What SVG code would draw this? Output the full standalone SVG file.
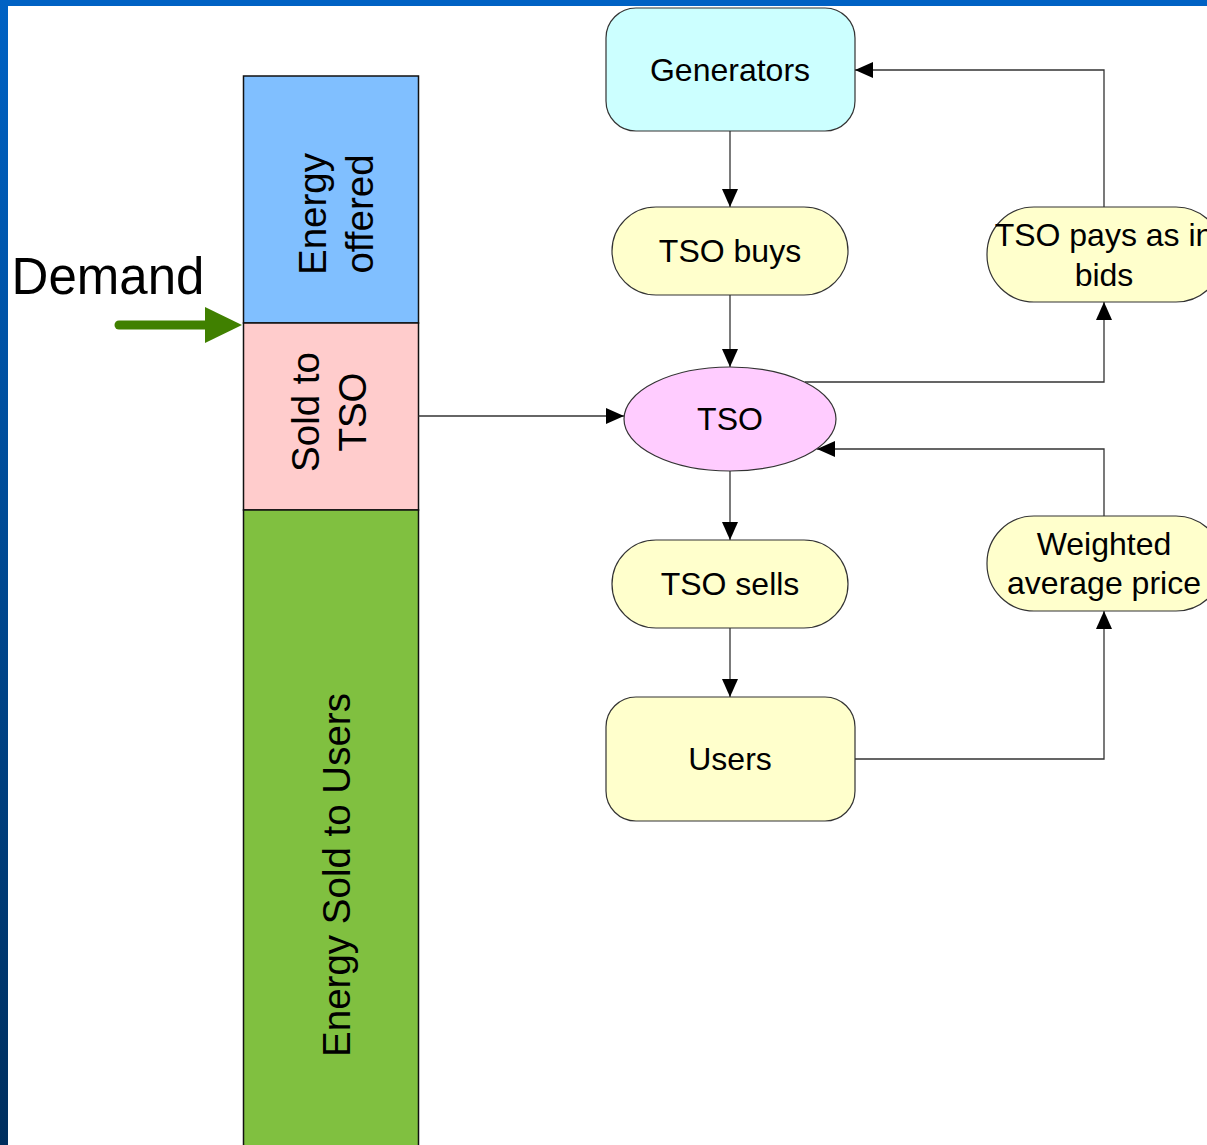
<svg xmlns="http://www.w3.org/2000/svg" width="1207" height="1145" viewBox="0 0 1207 1145">
<defs>
<linearGradient id="lb" x1="0" y1="0" x2="0" y2="1">
<stop offset="0" stop-color="#0062c4"/>
<stop offset="1" stop-color="#002f5e"/>
</linearGradient>
<marker id="ah" viewBox="0 0 18 16" refX="18" refY="8" markerWidth="18" markerHeight="16" markerUnits="userSpaceOnUse" orient="auto">
<path d="M0,0 L18,8 L0,16 Z" fill="#000"/>
</marker>
<style>
.t{font-family:"Liberation Sans",Arial,sans-serif;fill:#000;text-anchor:middle}
.n{font-size:32px}
.v{font-size:38.5px}
.node{stroke:#333;stroke-width:1.2}
.bar{stroke:#111;stroke-width:1.5}
.c{fill:none;stroke:#333;stroke-width:1.3}
</style>
</defs>
<rect x="0" y="0" width="1207" height="1145" fill="#fff"/>
<rect x="0" y="0" width="1207" height="6" fill="#0062c4"/>
<rect x="0" y="0" width="8" height="1145" fill="url(#lb)"/>

<g id="bar">
<rect class="bar" x="243.5" y="76" width="175" height="247" fill="#80bfff"/>
<rect class="bar" x="243.5" y="323" width="175" height="187" fill="#ffcccc"/>
<rect class="bar" x="243.5" y="510" width="175" height="640" fill="#80c040"/>
<text class="t v" transform="translate(326,214) rotate(-90)">Energy</text>
<text class="t v" transform="translate(373,214) rotate(-90)">offered</text>
<text class="t v" transform="translate(319,412) rotate(-90)">Sold to</text>
<text class="t v" transform="translate(366,412) rotate(-90)">TSO</text>
<text class="t v" transform="translate(350,875) rotate(-90)">Energy Sold to Users</text>
</g>

<g id="demand">
<text class="t" x="108" y="294" font-size="51">Demand</text>
<line x1="119" y1="325" x2="208" y2="325" stroke="#408000" stroke-width="9" stroke-linecap="round"/>
<path d="M205,307 L242,325 L205,343 Z" fill="#408000"/>
</g>

<g id="connectors">
<path class="c" d="M730,131 L730,207" marker-end="url(#ah)"/>
<path class="c" d="M730,295 L730,367" marker-end="url(#ah)"/>
<path class="c" d="M730,471 L730,540" marker-end="url(#ah)"/>
<path class="c" d="M730,628 L730,697" marker-end="url(#ah)"/>
<path class="c" d="M418.5,416 L624,416" marker-end="url(#ah)"/>
<path class="c" d="M805,382 L1104,382 L1104,302" marker-end="url(#ah)"/>
<path class="c" d="M1104,207 L1104,70 L855,70" marker-end="url(#ah)"/>
<path class="c" d="M855,759 L1104,759 L1104,611" marker-end="url(#ah)"/>
<path class="c" d="M1104,516 L1104,449 L817,449" marker-end="url(#ah)"/>
</g>

<g id="generators">
<rect class="node" x="606" y="8" width="249" height="123" rx="30" fill="#ccffff"/>
<text class="t n" x="730" y="81">Generators</text>
</g>
<g id="tso-buys">
<rect class="node" x="612" y="207" width="236" height="88" rx="44" fill="#ffffcc"/>
<text class="t n" x="730" y="262">TSO buys</text>
</g>
<g id="tso">
<ellipse class="node" cx="730" cy="419" rx="106" ry="52" fill="#ffccff"/>
<text class="t n" x="730" y="430">TSO</text>
</g>
<g id="tso-sells">
<rect class="node" x="612" y="540" width="236" height="88" rx="44" fill="#ffffcc"/>
<text class="t n" x="730" y="595">TSO sells</text>
</g>
<g id="users">
<rect class="node" x="606" y="697" width="249" height="124" rx="30" fill="#ffffcc"/>
<text class="t n" x="730" y="770">Users</text>
</g>
<g id="tso-pays">
<rect class="node" x="987" y="207" width="236" height="95" rx="47" fill="#ffffcc"/>
<text class="t n" x="1104" y="246">TSO pays as in</text>
<text class="t n" x="1104" y="286">bids</text>
</g>
<g id="weighted">
<rect class="node" x="987" y="516" width="236" height="95" rx="47" fill="#ffffcc"/>
<text class="t n" x="1104" y="555">Weighted</text>
<text class="t n" x="1104" y="594">average price</text>
</g>
</svg>
